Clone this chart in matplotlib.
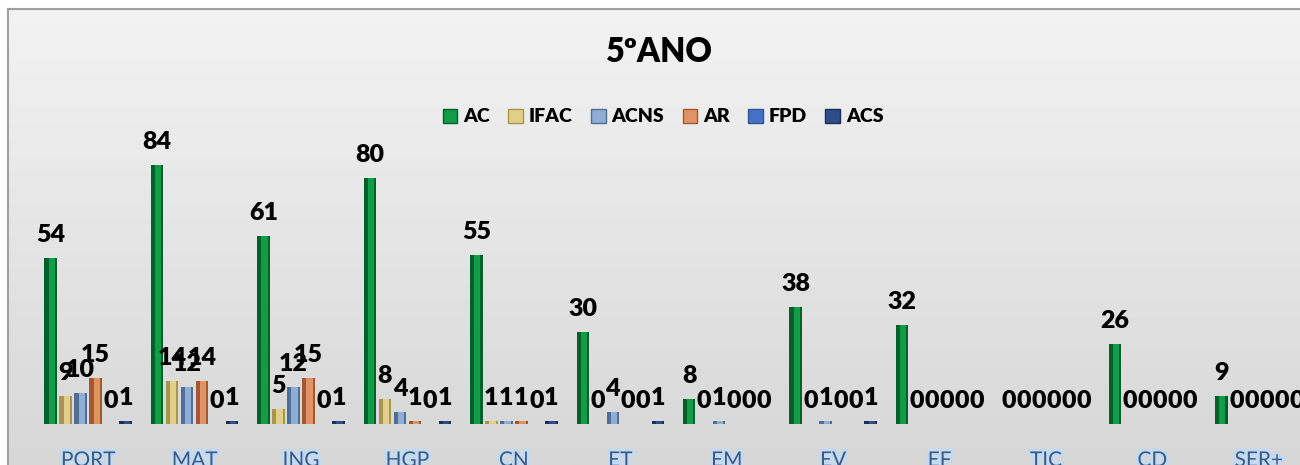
import matplotlib
matplotlib.use("Agg")
import matplotlib.pyplot as plt
import numpy as np
from matplotlib.patches import Patch
import matplotlib.patheffects as pe

categories = ["PORT", "MAT", "ING", "HGP", "CN", "ET", "EM", "EV", "EF", "TIC", "CD", "SER+"]
series_names = ["AC", "IFAC", "ACNS", "AR", "FPD", "ACS"]
AC   = [54, 84, 61, 80, 55, 30, 8, 38, 32, 0, 26, 9]
IFAC = [9, 14, 5, 8, 1, 0, 0, 0, 0, 0, 0, 0]
ACNS = [10, 12, 12, 4, 1, 4, 1, 1, 0, 0, 0, 0]
AR   = [15, 14, 15, 1, 1, 0, 0, 0, 0, 0, 0, 0]
FPD  = [0, 0, 0, 0, 0, 0, 0, 0, 0, 0, 0, 0]
ACS  = [1, 1, 1, 1, 1, 1, 0, 1, 0, 0, 0, 0]
series = [AC, IFAC, ACNS, AR, FPD, ACS]

main_colors = ["#129c48", "#e2d08a", "#8eaed6", "#df9468", "#4472c4", "#2e4d8a"]
dark_colors = ["#00602a", "#a8954e", "#4f6f99", "#a3582f", "#2f559a", "#1a2f5a"]

W, H, DPI = 1300, 465, 100
fig = plt.figure(figsize=(W / DPI, H / DPI), dpi=DPI)
fig.patch.set_facecolor("white")

# background chart area with gradient
bg = fig.add_axes([8 / W, 0, 1 - 8 / W, (H - 9) / H])
grad = np.linspace(0, 1, 256).reshape(-1, 1)
top = np.array([0xf3, 0xf3, 0xf3]) / 255
bot = np.array([0xd7, 0xd7, 0xd7]) / 255
img = top + (bot - top) * grad[..., None]
bg.imshow(img, aspect="auto", extent=[0, 1, 0, 1], origin="upper")
bg.set_xlim(0, 1)
bg.set_ylim(0, 1)
bg.set_xticks([])
bg.set_yticks([])
for s in ["right", "bottom"]:
    bg.spines[s].set_visible(False)
for s in ["top", "left"]:
    bg.spines[s].set_color("#a0a0a0")
    bg.spines[s].set_linewidth(1.5)

# plot axes: baseline at y=424px, 3.08 px per unit
base_px = 424
ymax = 90
px_per_unit = 3.08
ax_left, ax_right = 35, 1312
ax = fig.add_axes([ax_left / W, (H - base_px) / H, (ax_right - ax_left) / W, ymax * px_per_unit / H])
ax.patch.set_visible(False)
ax.set_xlim(-0.5, len(categories) - 0.5)
ax.set_ylim(0, ymax)

x = np.arange(len(categories))
cat_px = (ax_right - ax_left) / len(categories)
step = 15 / cat_px
bw = 12.5 / cat_px

font = "Lato"
for i, (name, vals) in enumerate(zip(series_names, series)):
    pos = x + (i - 2.5) * step
    ax.bar(pos, vals, width=bw, color=dark_colors[i], linewidth=0, zorder=2)
    ax.bar(pos + bw * 0.08, vals, width=bw * 0.5, color=main_colors[i], linewidth=0, zorder=3)
    for xp, v in zip(pos, vals):
        ax.annotate(str(v), (xp, v), xytext=(0, 11.5), textcoords="offset points",
                    ha="center", va="baseline", fontsize=18, fontweight="heavy",
                    family=font, color="black", zorder=5, annotation_clip=False)

ax.set_yticks([])
ax.set_xticks(x)
ax.set_xticklabels(categories, family=font, fontsize=15, color="#3d5a82")
for lbl in ax.get_xticklabels():
    lbl.set_path_effects([pe.withStroke(linewidth=4, foreground="#c2daf2")])
ax.tick_params(axis="x", length=0, pad=19)
for s in ax.spines.values():
    s.set_visible(False)

fig.text(659 / W, 1 - 52 / H, "5ºANO", ha="center", va="center", fontsize=23.5,
         fontweight="heavy", family=font, color="black")

handles = [Patch(facecolor=main_colors[i], edgecolor=dark_colors[i], linewidth=1.0) for i in range(6)]
leg = fig.legend(handles, series_names, loc="center", bbox_to_anchor=(663 / W, 1 - 117 / H),
                 ncol=6, frameon=False, handlelength=0.75, handleheight=0.75, handletextpad=0.3,
                 columnspacing=0.95, prop={"family": font, "weight": "heavy", "size": 14})

fig.savefig("out.png", dpi=DPI)
